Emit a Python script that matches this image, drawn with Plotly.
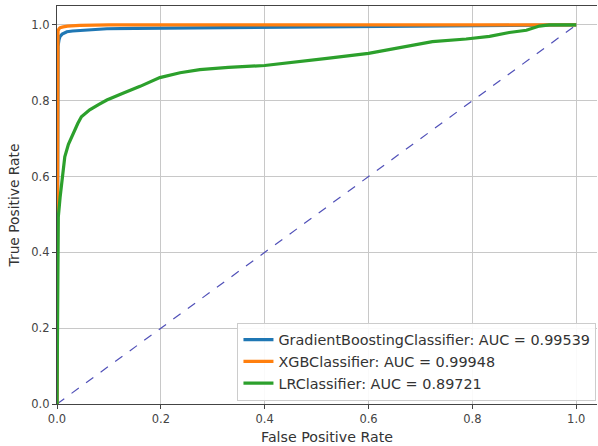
import plotly.graph_objects as go

# ROC data
gb_fpr = [0.0, 0.0005, 0.001, 0.002, 0.004, 0.006, 0.010, 0.019, 0.030, 0.044, 0.070, 0.096, 0.150, 0.250, 0.350, 0.500, 0.700, 0.900, 1.0]
gb_tpr = [0.0, 0.60, 0.90, 0.944, 0.962, 0.970, 0.976, 0.982, 0.984, 0.985, 0.988, 0.990, 0.991, 0.992, 0.994, 0.996, 0.998, 0.999, 1.0]

xgb_fpr = [0.0, 0.0005, 0.001, 0.002, 0.004, 0.006, 0.012, 0.020, 0.044, 0.100, 0.300, 1.0]
xgb_tpr = [0.0, 0.55, 0.975, 0.985, 0.990, 0.993, 0.995, 0.997, 0.999, 1.0, 1.0, 1.0]

lr_fpr = [0.0, 0.001, 0.0025, 0.006, 0.010, 0.015, 0.022, 0.031, 0.040, 0.047, 0.063, 0.080, 0.096, 0.127, 0.160, 0.198, 0.237, 0.275, 0.330, 0.400, 0.467, 0.520, 0.600, 0.660, 0.723, 0.788, 0.833, 0.871, 0.904, 0.929, 0.948, 1.0]
lr_tpr = [0.0, 0.46, 0.493, 0.546, 0.600, 0.652, 0.685, 0.714, 0.740, 0.758, 0.776, 0.790, 0.802, 0.820, 0.838, 0.861, 0.874, 0.882, 0.888, 0.893, 0.903, 0.912, 0.925, 0.940, 0.956, 0.963, 0.970, 0.980, 0.986, 0.997, 1.0, 1.0]

diag = [0.0, 1.0]

names = ["GradientBoostingClassifier: AUC = 0.99539",
         "XGBClassifier: AUC = 0.99948",
         "LRClassifier: AUC = 0.89721"]
colors = ["#1f77b4", "#ff7f0e", "#2ca02c"]

ticks = [0.0, 0.2, 0.4, 0.6, 0.8, 1.0]
tick_text = ["0.0", "0.2", "0.4", "0.6", "0.8", "1.0"]

fig = go.Figure()
fig.add_trace(go.Scatter(x=diag, y=diag, mode="lines", showlegend=False,
                         line=dict(color="#5050b8", width=1.2, dash="dash")))
for fx, ty, nm, c in zip([gb_fpr, xgb_fpr, lr_fpr], [gb_tpr, xgb_tpr, lr_tpr], names, colors):
    fig.add_trace(go.Scatter(x=fx, y=ty, mode="lines", name=nm,
                             line=dict(color=c, width=3.2)))

axis_common = dict(
    showgrid=True, gridcolor="#c8c8c8", gridwidth=1,
    showline=True, linecolor="#444444", linewidth=1.2,
    ticks="outside", ticklen=4, tickcolor="#444444",
    tickfont=dict(size=11.5, color="#444444"),
    tickvals=ticks, ticktext=tick_text, zeroline=False,
    automargin=False,
)

fig.update_layout(
    width=598, height=446,
    margin=dict(l=57, r=1, t=6, b=42),
    paper_bgcolor="white", plot_bgcolor="white",
    font=dict(family="DejaVu Sans", color="#333333"),
    xaxis=dict(range=[0, 1.04], mirror=True,
               title=dict(text="False Positive Rate", font=dict(size=14.2), standoff=7), **axis_common),
    yaxis=dict(range=[0, 1.05], mirror=False,
               title=dict(text="True Positive Rate", font=dict(size=13.8), standoff=8), **axis_common),
    legend=dict(x=0.999, y=0.008, xanchor="right", yanchor="bottom",
                bgcolor="rgba(255,255,255,0.9)", bordercolor="#cccccc", borderwidth=1,
                font=dict(size=14.4, color="#333333"), tracegroupgap=0,
                itemwidth=30),
)

fig.write_html("out.html", config={"displayModeBar": False},
               post_script="document.body.style.margin='0px';")
